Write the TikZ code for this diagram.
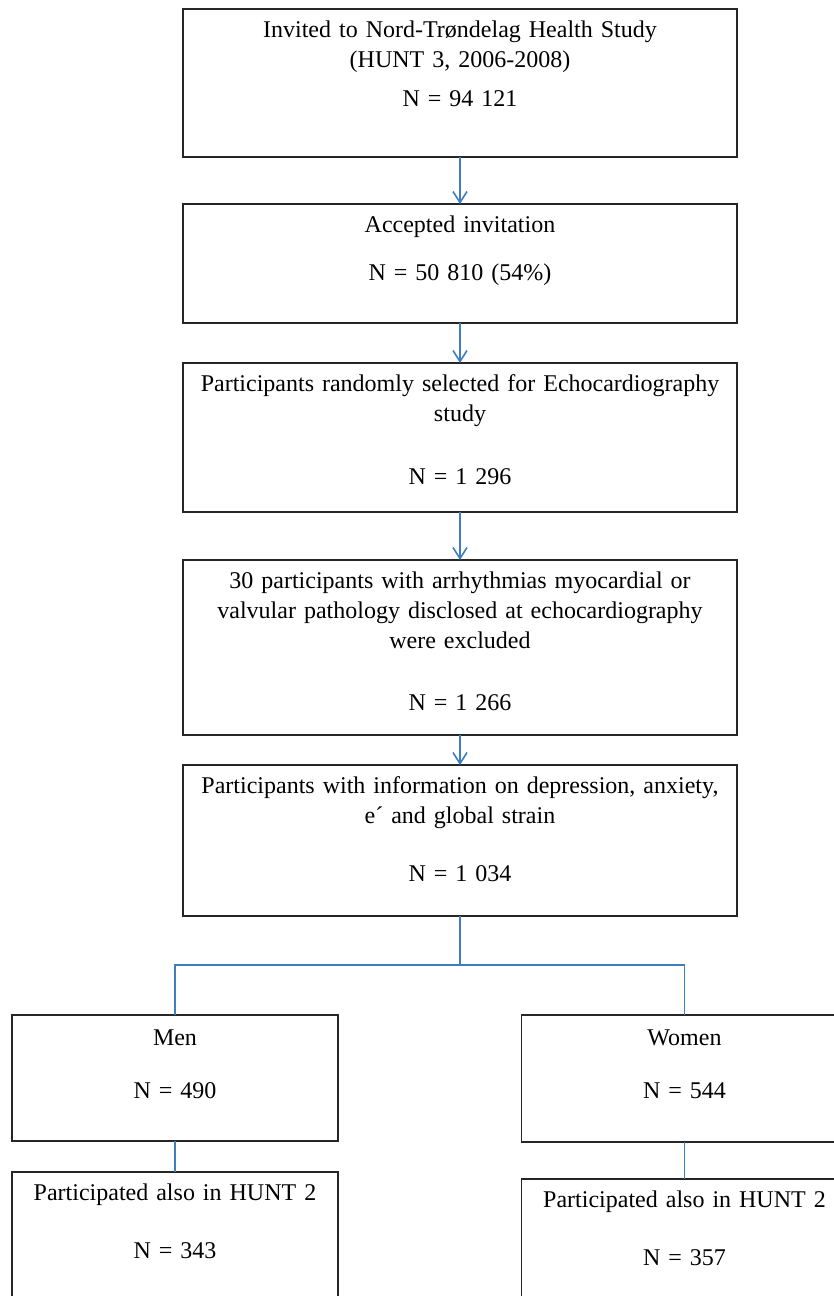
\documentclass[tikz,border=0pt]{standalone}
\usepackage{fontspec}
\setmainfont{Liberation Serif}
\usepackage{tikz}
\usetikzlibrary{positioning,arrows.meta}
\definecolor{linkblue}{RGB}{62,126,192}

\begin{document}
\begin{tikzpicture}[
    box/.style={draw=black!85, line width=0.9pt, anchor=north, inner sep=0pt, outer sep=0pt,
        align=center, font=\fontsize{12pt}{15pt}\selectfont, text height=14pt},
    mainbox/.style={box, text width=277pt},
    sidebox/.style={box, text width=163pt},
    flow/.style={draw=linkblue, line width=0.8pt, -{Straight Barb[length=5.5pt,width=7pt]}},
    link/.style={draw=linkblue, line width=0.9pt}]

    \useasboundingbox (0,0) rectangle (417pt,-648pt);
    \clip (0,0) rectangle (417pt,-648pt);

    % Main column
    \node[mainbox, text depth=60pt] (invited) at (230pt,-4.5pt)
        {Invited to Nord-Trøndelag Health Study\\(HUNT 3, 2006-2008)\\[4.5pt]N = 94 121};
    \node[mainbox, text depth=45.5pt, below=23.5pt of invited] (accepted)
        {Accepted invitation\\[9pt]N = 50 810 (54\%)};
    \node[mainbox, text depth=60.5pt, below=20pt of accepted] (selected)
        {Participants randomly selected for Echocardiography\\study\\[16.5pt]N = 1 296};
    \node[mainbox, text depth=73.5pt, below=24pt of selected] (excluded)
        {30 participants with arrhythmias myocardial or\\valvular pathology disclosed at echocardiography\\were excluded\\[16pt]N = 1 266};
    \node[mainbox, text depth=61.5pt, below=15pt of excluded] (sample)
        {Participants with information on depression, anxiety,\\e´ and global strain\\[14pt]N = 1 034};

    % Split by sex
    \node[sidebox, text height=15pt, text depth=48pt, below=49.5pt of sample, xshift=-142.5pt] (men)
        {Men\\[11.5pt]N = 490};
    \node[sidebox, text height=15pt, text depth=48.5pt, below=49.5pt of sample, xshift=112.25pt] (women)
        {Women\\[11.5pt]N = 544};

    % HUNT 2 participation
    \node[sidebox, text depth=56pt, below=15.5pt of men] (menhunt)
        {Participated also in HUNT 2\\[14pt]N = 343};
    \node[sidebox, text depth=56pt, below=18.5pt of women] (womenhunt)
        {Participated also in HUNT 2\\[14pt]N = 357};

    % Connections
    \draw[flow] (invited) -- (accepted);
    \draw[flow] (accepted) -- (selected);
    \draw[flow] (selected) -- (excluded);
    \draw[flow] (excluded) -- (sample);

    \coordinate (split) at ([yshift=-24.5pt]sample.south);
    \draw[link] (sample) -- (split);
    \draw[link] (men.north) |- (split) -| (women.north);
    \draw[link] (men) -- (menhunt);
    \draw[link] (women) -- (womenhunt);
\end{tikzpicture}
\end{document}
